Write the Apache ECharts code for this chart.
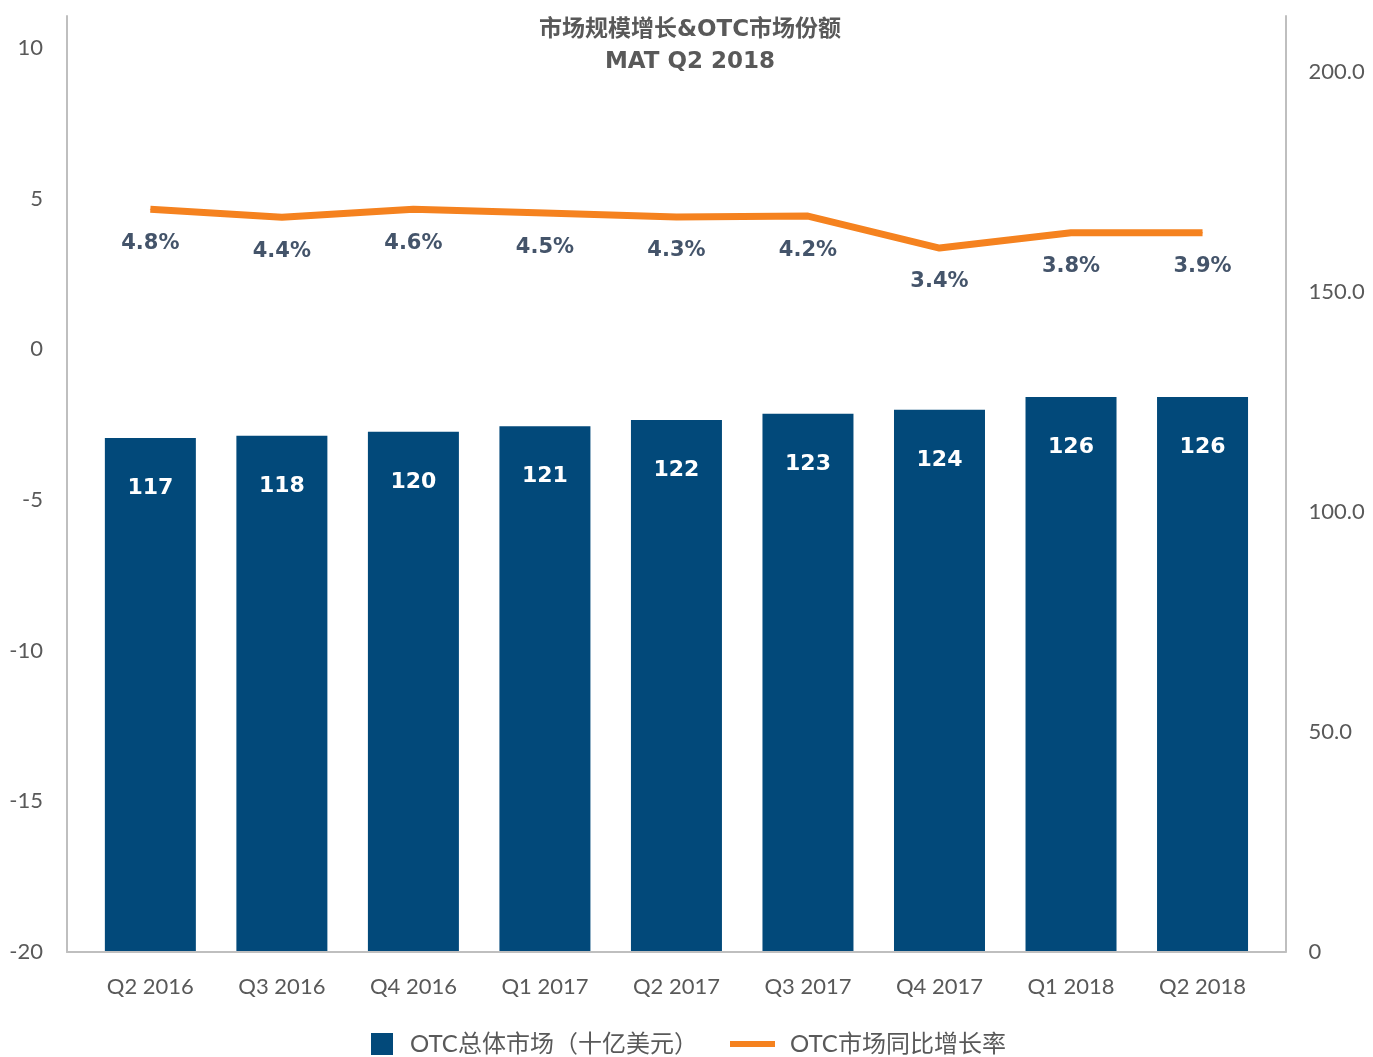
<!DOCTYPE html>
<html>
<head>
<meta charset="utf-8">
<title>市场规模增长&amp;OTC市场份额</title>
<script src="https://cdn.jsdelivr.net/npm/echarts@6/dist/echarts.min.js"></script>
<style>
html, body { margin: 0; padding: 0; background: #fff; }
#chart { width: 1373px; height: 1057px; }
</style>
</head>
<body>
<div id="chart"></div>
<script>
"use strict";

// values as drawn in the picture, label texts as printed on it
var quarters = ['Q2 2016', 'Q3 2016', 'Q4 2016', 'Q1 2017', 'Q2 2017', 'Q3 2017', 'Q4 2017', 'Q1 2018', 'Q2 2018'];
var marketSize = [116.8, 117.3, 118.2, 119.5, 120.9, 122.3, 123.2, 126.1, 126.1];
var marketLabels = ['117', '118', '120', '121', '122', '123', '124', '126', '126'];
var growthRate = [4.65, 4.38, 4.65, 4.52, 4.39, 4.42, 3.36, 3.87, 3.87];
var growthLabels = ['4.8%', '4.4%', '4.6%', '4.5%', '4.3%', '4.2%', '3.4%', '3.8%', '3.9%'];

var BAR_NAME = 'OTC总体市场（十亿美元）';
var LINE_NAME = 'OTC市场同比增长率';
var AXIS_GREY = '#bfbfbf';
var TEXT_GREY = '#595959';
var LABEL_FONT = 'Lato, "Noto Sans CJK SC", sans-serif';
var BOLD_FONT = '"DejaVu Sans", "Noto Sans CJK SC", sans-serif';

var chart = echarts.init(document.getElementById('chart'), null, { renderer: 'canvas' });

chart.setOption({
	backgroundColor: '#fff',
	animation: false,
	title: {
		text: '市场规模增长&OTC市场份额\nMAT Q2 2018',
		left: 690,
		top: 14,
		padding: 0,
		textAlign: 'center',
		textStyle: {
			color: TEXT_GREY,
			fontFamily: BOLD_FONT,
			fontWeight: 'bold',
			fontSize: 23,
			lineHeight: 32
		}
	},
	legend: [{
		data: [{ name: BAR_NAME, icon: 'rect' }],
		left: 371,
		top: 1032,
		padding: 0,
		itemWidth: 22,
		itemHeight: 22,
		textStyle: { color: TEXT_GREY, fontFamily: LABEL_FONT, fontSize: 24, padding: [0, 0, 0, 12] }
	}, {
		data: [{ name: LINE_NAME, icon: 'rect' }],
		left: 730,
		top: 1032,
		padding: 0,
		itemWidth: 45,
		itemHeight: 6,
		textStyle: { color: TEXT_GREY, fontFamily: LABEL_FONT, fontSize: 24, padding: [0, 0, 0, 10] }
	}],
	grid: [{
		left: 84.6,
		right: 104.7,
		top: 16,
		bottom: 105
	}, {
		left: 67,
		right: 87.5,
		top: 16,
		bottom: 105
	}],
	xAxis: [{
		type: 'category',
		gridIndex: 0,
		data: quarters,
		axisLine: { show: false },
		axisTick: { show: false },
		axisLabel: { color: TEXT_GREY, fontFamily: LABEL_FONT, fontSize: 22, margin: 24 }
	}, {
		type: 'category',
		gridIndex: 1,
		data: quarters,
		z: 5,
		axisLine: { show: true, onZero: false, lineStyle: { color: AXIS_GREY, width: 2 } },
		axisTick: { show: false },
		axisLabel: { show: false }
	}],
	yAxis: [{
		type: 'value',
		gridIndex: 0,
		position: 'left',
		offset: 17.6,
		min: -20,
		max: 11.06,
		interval: 5,
		splitLine: { show: false },
		axisTick: { show: false },
		axisLine: { show: true, lineStyle: { color: AXIS_GREY, width: 2 } },
		axisLabel: { color: TEXT_GREY, fontFamily: LABEL_FONT, fontSize: 22, margin: 24, showMaxLabel: false }
	}, {
		type: 'value',
		gridIndex: 0,
		position: 'right',
		offset: 17.2,
		min: 0,
		max: 212.7,
		interval: 50,
		splitLine: { show: false },
		axisTick: { show: false },
		axisLine: { show: true, lineStyle: { color: AXIS_GREY, width: 2 } },
		axisLabel: {
			color: TEXT_GREY,
			fontFamily: LABEL_FONT,
			fontSize: 22,
			margin: 23,
			showMaxLabel: false,
			formatter: function(v) {
				return v === 0 ? '0' : v.toFixed(1);
			}
		}
	}, {
		type: 'value',
		gridIndex: 1,
		min: 0,
		max: 1,
		show: false
	}],
	series: [{
		name: BAR_NAME,
		type: 'bar',
		xAxisIndex: 0,
		yAxisIndex: 1,
		data: marketSize,
		barWidth: 91,
		itemStyle: { color: '#02497a' },
		label: {
			show: true,
			position: 'insideTop',
			distance: 39,
			color: '#fff',
			fontFamily: BOLD_FONT,
			fontWeight: 'bold',
			fontSize: 22,
			lineHeight: 22,
			formatter: function(p) {
				return marketLabels[p.dataIndex];
			}
		}
	}, {
		name: LINE_NAME,
		type: 'line',
		xAxisIndex: 0,
		yAxisIndex: 0,
		data: growthRate,
		symbol: 'circle',
		symbolSize: 1,
		showSymbol: true,
		z: 4,
		itemStyle: { color: '#f5821f' },
		lineStyle: { color: '#f5821f', width: 7 },
		label: {
			show: true,
			position: 'bottom',
			distance: 23,
			color: '#44546a',
			fontFamily: BOLD_FONT,
			fontWeight: 'bold',
			fontSize: 21,
			lineHeight: 21,
			formatter: function(p) {
				return growthLabels[p.dataIndex];
			}
		}
	}]
});
</script>
</body>
</html>
